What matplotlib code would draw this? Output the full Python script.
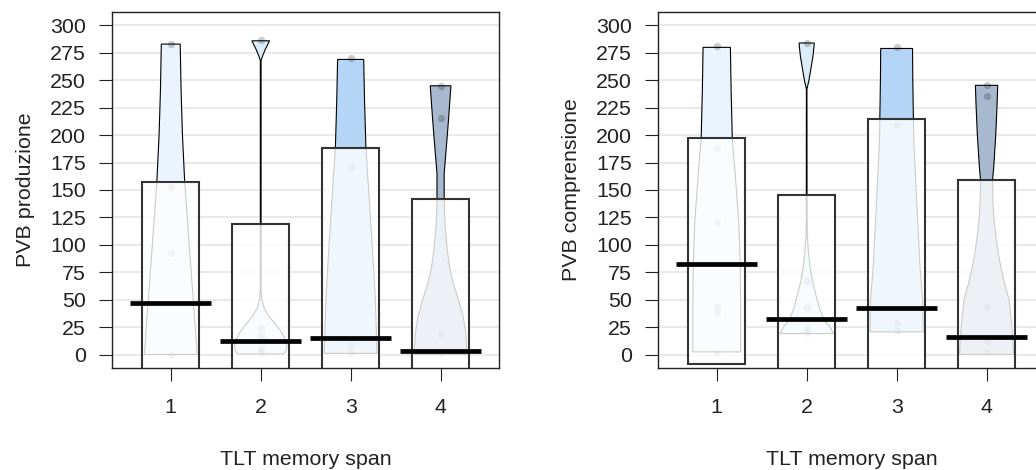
"""Pirate-style plots: PVB scores by TLT memory span."""

import numpy as np
import matplotlib
matplotlib.use("Agg")
import matplotlib.pyplot as plt
from matplotlib.patches import Rectangle

plt.rcParams["font.family"] = ["Liberation Sans", "DejaVu Sans"]

GROUPS = [1, 2, 3, 4]
COLORS = ["#EAF3FE", "#DAEDF9", "#B4D5F5", "#A8B9CF"]
Y_TICKS = list(range(0, 301, 25))
X_LABEL = "TLT memory span"

# panel 1: PVB produzione
prod_label = "PVB produzione"
prod_points = [
    [0, 93, 153, 283],
    [1, 5, 17, 24, 287],
    [1.5, 9, 171, 270],
    [1, 18.5, 216, 245],
]
prod_mean = [47, 12.4, 15.2, 3.6]
prod_box_top = [157, 118.8, 188, 141.5]
prod_box_bottom = [-63, -94, -158, -134]
prod_violin_y = [
    [0, 50, 100, 157, 200, 240, 283],
    [0.5, 2, 7, 12, 20, 28, 35, 42, 50, 60, 266, 268, 272, 278, 283, 286],
    [1, 50, 100, 150, 188, 230, 269],
    [0, 20, 35, 50, 65, 80, 95, 110, 125, 141, 165, 195, 216, 245],
]
prod_violin_hw = [
    [0.293, 0.25, 0.205, 0.155, 0.13, 0.115, 0.105],
    [0.25, 0.275, 0.292, 0.285, 0.235, 0.16, 0.09, 0.04, 0.012, 0.004, 0.004, 0.004, 0.02, 0.05, 0.08, 0.098],
    [0.293, 0.275, 0.24, 0.2, 0.17, 0.155, 0.145],
    [0.295, 0.28, 0.25, 0.2, 0.14, 0.1, 0.075, 0.058, 0.046, 0.04, 0.04, 0.07, 0.09, 0.115],
]

# panel 2: PVB comprensione
comp_label = "PVB comprensione"
comp_points = [
    [1, 38, 44, 121, 188, 281],
    [20, 23, 42, 67, 284],
    [21, 29, 209, 280],
    [2, 12, 43, 236, 246],
]
comp_mean = [82.3, 32.8, 42.8, 16]
comp_box_top = [197.4, 145.2, 215, 158.8]
comp_box_bottom = [-8.2, -80, -130, -126]
comp_violin_y = [
    [2.4, 40, 80, 120, 160, 197, 240, 280],
    [19.1, 25, 31, 40, 52, 65, 80, 95, 110, 125, 240, 242, 250, 262, 272, 284],
    [20.6, 50, 80, 140, 197, 250, 279],
    [0, 19, 35, 50, 65, 80, 95, 110, 125, 141, 159, 171, 201, 230, 245.4],
]
comp_violin_hw = [
    [0.266, 0.266, 0.262, 0.245, 0.21, 0.173, 0.16, 0.152],
    [0.297, 0.26, 0.2, 0.15, 0.11, 0.07, 0.037, 0.018, 0.007, 0.004, 0.003, 0.003, 0.025, 0.05, 0.07, 0.085],
    [0.295, 0.29, 0.26, 0.223, 0.19, 0.18, 0.177],
    [0.3, 0.288, 0.27, 0.25, 0.2, 0.158, 0.125, 0.1, 0.082, 0.07, 0.067, 0.08, 0.103, 0.118, 0.124],
]

FS = 15.4
fig = plt.figure(figsize=(10.36, 4.7), dpi=100)
ax1 = fig.add_axes([0.1084, 0.2177, 0.3733, 0.7562])
ax2 = fig.add_axes([0.6354, 0.2177, 0.3733, 0.7562])


def pirate(ax, ylabel, points, means, box_top, box_bottom, vy, vhw):
    for y in Y_TICKS:
        ax.axhline(y, color="#E6E6E6", lw=1.2, zorder=0.5)
    for i, g in enumerate(GROUPS):
        y = np.array(vy[i])
        hw = np.array(vhw[i])
        xs = np.concatenate([g - hw, (g + hw)[::-1]])
        ys = np.concatenate([y, y[::-1]])
        ax.fill(xs, ys, facecolor=COLORS[i], edgecolor="black", lw=0.8, zorder=1)
        ax.scatter([g] * len(points[i]), points[i], s=28, color="black",
                   alpha=0.2, lw=0, zorder=2)
        ax.add_patch(Rectangle((g - 0.315, box_bottom[i]), 0.63,
                               box_top[i] - box_bottom[i],
                               facecolor=(1, 1, 1, 0.8), edgecolor="#333333",
                               lw=1.5, zorder=3))
        ax.plot([g - 0.45, g + 0.45], [means[i], means[i]], color="black",
                lw=3.4, solid_capstyle="butt", zorder=4)

    ax.set_xlim(0.35, 4.65)
    ax.set_ylim(-12, 312)
    ax.set_xticks(GROUPS)
    ax.set_yticks(Y_TICKS)
    ax.tick_params(axis="both", direction="out", length=9.4, width=0.8,
                   labelsize=FS, colors="#222222")
    ax.tick_params(axis="x", pad=12.6)
    ax.tick_params(axis="y", pad=9.6)
    for sp in ax.spines.values():
        sp.set_color("#222222")
        sp.set_linewidth(1.0)
        sp.set_zorder(5)

    ax.set_ylabel(ylabel, fontsize=FS, va="baseline", color="#222222")
    ax.yaxis.set_label_coords(-81 / 386.7, 0.5)
    ax.set_xlabel(X_LABEL, fontsize=FS, va="baseline", color="#222222")
    ax.xaxis.set_label_coords(0.5, -97.8 / 355.4)


pirate(ax1, prod_label, prod_points, prod_mean, prod_box_top, prod_box_bottom,
       prod_violin_y, prod_violin_hw)
pirate(ax2, comp_label, comp_points, comp_mean, comp_box_top, comp_box_bottom,
       comp_violin_y, comp_violin_hw)

fig.savefig("out.png", dpi=100)
